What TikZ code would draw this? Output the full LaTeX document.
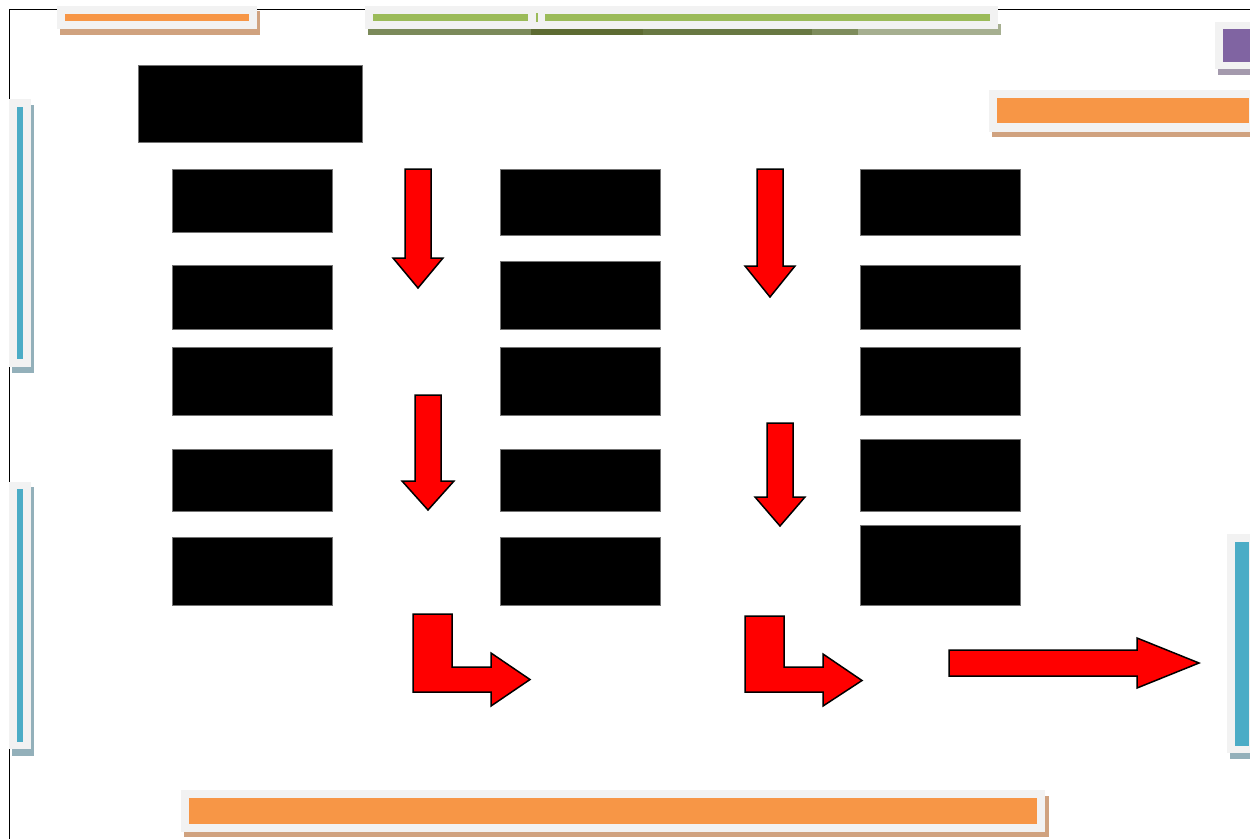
\documentclass[tikz,border=0pt]{standalone}
\definecolor{offorange}{HTML}{F79646}
\definecolor{orshadow}{HTML}{D0A27F}
\definecolor{panelgray}{HTML}{F2F2F2}
\definecolor{offgreen}{HTML}{9BBB59}
\definecolor{offblue}{HTML}{4BACC6}
\definecolor{blshadow}{HTML}{93B0BA}
\definecolor{offpurple}{HTML}{8064A2}
\definecolor{pushadow}{HTML}{A49AAD}
\definecolor{gsA}{HTML}{7B8A5A}
\definecolor{gsB}{HTML}{5D6B32}
\definecolor{gsC}{HTML}{687842}
\definecolor{gsD}{HTML}{7E8C5C}
\definecolor{gsE}{HTML}{A6AF90}
\tikzset{
  blk/.style={fill=black, draw=black!55, line width=0.5pt, inner sep=0pt, outer sep=0pt},
  redarrow/.style={fill=red, draw=black, line width=0.85pt, line join=miter},
  frameline/.style={draw=black, line width=0.6pt},
}
\newcommand\boxnode[5]{\node[blk, minimum width={(#4-#2)*0.02cm}, minimum height={(#5-#3)*0.02cm}] (#1) at ({(#2+#4)/2},{(#3+#5)/2}) {};}
\begin{document}
\begin{tikzpicture}[x=0.02cm,y=-0.02cm]
\useasboundingbox (0,0) rectangle (1250,839);
\begin{scope}
\clip (0,0) rectangle (1250,839);
% frame
\draw[frameline] (9.5,839) -- (9.5,9.5) -- (1250,9.5);

% top-left orange
\fill[orshadow] (60,11) rectangle (260,35);
\fill[panelgray] (57,6) rectangle (257,29);
\fill[offorange] (65,14) rectangle (249,21);

% top green
\fill[gsA] (368,24) rectangle (531,35);
\fill[gsB] (531,24) rectangle (643,35);
\fill[gsC] (643,24) rectangle (812,35);
\fill[gsD] (812,24) rectangle (858,35);
\fill[gsE] (858,24) rectangle (1001,35);
\fill[panelgray] (365,6) rectangle (998,29);
\fill[offgreen] (373,14) rectangle (528,21);
\fill[offgreen] (536,13) rectangle (538,22);
\fill[offgreen] (545,14) rectangle (990,21);

% top-right purple
\fill[pushadow] (1218,60) rectangle (1250,75);
\fill[panelgray] (1215,22) rectangle (1250,69);
\fill[offpurple] (1223,29) rectangle (1250,62);

% right orange
\fill[orshadow] (992,120) rectangle (1250,137);
\fill[panelgray] (989,90) rectangle (1250,132);
\fill[offorange] (997,98) rectangle (1249,123);

% left blue bars
\fill[blshadow] (12,105) rectangle (34,373);
\fill[panelgray] (9,99) rectangle (31,367);
\fill[offblue] (17,107) rectangle (23,359);
\fill[blshadow] (12,487) rectangle (34,756);
\fill[panelgray] (9,482) rectangle (31,749);
\fill[offblue] (17,489) rectangle (23,742);

% right blue bar
\fill[blshadow] (1230,540) rectangle (1250,759);
\fill[panelgray] (1227,534) rectangle (1250,753);
\fill[offblue] (1235,542) rectangle (1249,746);

% bottom orange
\fill[orshadow] (184,796) rectangle (1049,837);
\fill[panelgray] (181,790) rectangle (1045,832);
\fill[offorange] (189,798) rectangle (1037,824);
\end{scope}

% title box
\boxnode{title}{138}{65}{362}{142}
% column 1
\boxnode{a1}{172}{169}{332}{232}
\boxnode{a2}{172}{265}{332}{329}
\boxnode{a3}{172}{347}{332}{415}
\boxnode{a4}{172}{449}{332}{511}
\boxnode{a5}{172}{537}{332}{605}
% column 2
\boxnode{b1}{500}{169}{660}{235}
\boxnode{b2}{500}{261}{660}{329}
\boxnode{b3}{500}{347}{660}{415}
\boxnode{b4}{500}{449}{660}{511}
\boxnode{b5}{500}{537}{660}{605}
% column 3
\boxnode{c1}{860}{169}{1020}{235}
\boxnode{c2}{860}{265}{1020}{329}
\boxnode{c3}{860}{347}{1020}{415}
\boxnode{c4}{860}{439}{1020}{511}
\boxnode{c5}{860}{525}{1020}{605}

% down arrows
\draw[redarrow] (405,169) -- (431,169) -- (431,258) -- (443,258) -- (418,288) -- (393,258) -- (405,258) -- cycle;
\draw[redarrow] (415,395) -- (441,395) -- (441,481) -- (454,481) -- (428,510) -- (402,481) -- (415,481) -- cycle;
\draw[redarrow] (757,169) -- (783,169) -- (783,266) -- (795,266) -- (770,297) -- (745,266) -- (757,266) -- cycle;
\draw[redarrow] (767,423) -- (793,423) -- (793,497) -- (805,497) -- (780,526) -- (755,497) -- (767,497) -- cycle;

% bent arrows
\draw[redarrow] (413,614) -- (452,614) -- (452,667) -- (491,667) -- (491,653) -- (530,679.5) -- (491,706) -- (491,692) -- (413,692) -- cycle;
\draw[redarrow] (745,616) -- (784,616) -- (784,667) -- (823,667) -- (823,654) -- (862,680.5) -- (823,706) -- (823,692) -- (745,692) -- cycle;

% right arrow
\draw[redarrow] (949,650) -- (1137,650) -- (1137,638) -- (1199,663) -- (1137,688) -- (1137,676) -- (949,676) -- cycle;
\end{tikzpicture}
\end{document}
